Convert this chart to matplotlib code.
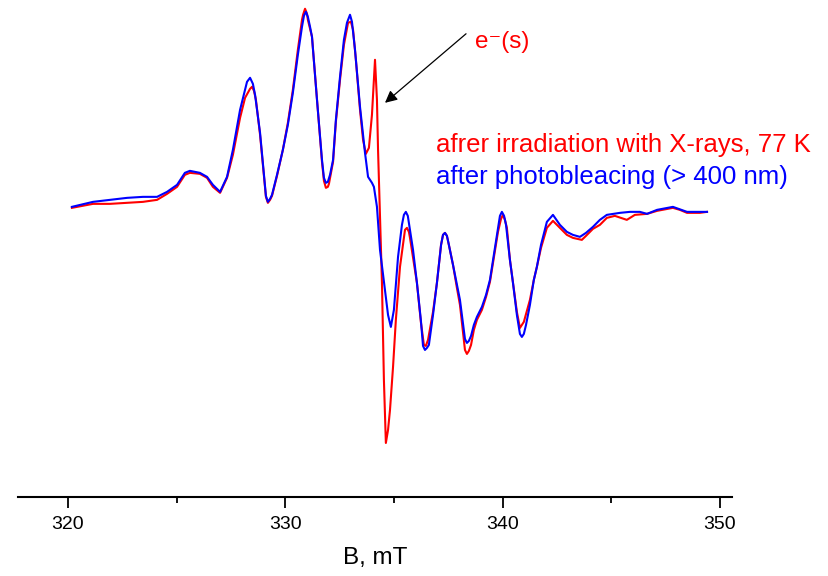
import matplotlib
matplotlib.use("Agg")
import matplotlib.pyplot as plt
from matplotlib.ticker import MultipleLocator

# Magnetic field (mT) and EPR intensity (a.u.)
b_blue = [320.18, 321.15, 321.93, 322.72, 323.45, 324.10, 324.56, 325.02, 325.38, 325.61,
          326.07, 326.40, 326.67, 327.00, 327.32, 327.59, 327.92, 328.15, 328.24, 328.38,
          328.51, 328.61, 328.84, 329.02, 329.11, 329.20, 329.30, 329.39, 329.62, 329.89,
          330.12, 330.35, 330.58, 330.77, 330.86, 330.95, 331.04, 331.14, 331.23, 331.46,
          331.69, 331.78, 331.87, 331.96, 332.06, 332.20, 332.33, 332.52, 332.70, 332.84,
          332.98, 333.07, 333.21, 333.44, 333.67, 333.81, 333.99, 334.08, 334.22, 334.36,
          334.59, 334.73, 334.86, 335.00, 335.19, 335.37, 335.46, 335.55, 335.64, 335.88,
          336.06, 336.24, 336.34, 336.43, 336.52, 336.61, 336.80, 336.98, 337.17, 337.26,
          337.35, 337.44, 337.53, 337.72, 337.90, 338.04, 338.22, 338.27, 338.36, 338.45,
          338.55, 338.68, 338.82, 339.05, 339.24, 339.42, 339.60, 339.79, 339.88, 339.97,
          340.07, 340.16, 340.34, 340.48, 340.66, 340.80, 340.89, 340.98, 341.08, 341.26,
          341.44, 341.58, 341.77, 342.04, 342.32, 342.64, 342.96, 343.24, 343.56, 343.84,
          344.16, 344.48, 344.80, 345.40, 345.86, 346.32, 346.65, 347.11, 347.84, 348.49,
          349.08, 349.41]
i_blue = [-2, 3, 5, 7, 8, 8, 13, 20, 32, 34,
          32, 28, 20, 13, 28, 55, 95, 115, 123, 127,
          121, 110, 72, 30, 9, 3, 6, 10, 30, 55,
          80, 112, 150, 178, 189, 193, 188, 178, 168, 105,
          45, 27, 22, 23, 30, 45, 85, 128, 165, 182,
          190, 183, 155, 98, 52, 28, 22, 18, -2, -45,
          -85, -110, -122, -105, -52, -20, -10, -7, -11, -45,
          -78, -115, -141, -145, -143, -140, -110, -78, -40, -30,
          -28, -31, -40, -60, -80, -95, -125, -134, -138, -136,
          -131, -120, -112, -102, -90, -75, -50, -23, -11, -7,
          -11, -20, -55, -78, -110, -129, -132, -129, -120, -100,
          -75, -62, -40, -17, -10, -20, -27, -30, -32, -28,
          -22, -15, -10, -8, -7, -7, -9, -5, -2, -7,
          -7, -7]

b_red = [320.18, 321.15, 321.93, 322.72, 323.45, 324.10, 324.56, 325.02, 325.38, 325.61,
         326.07, 326.40, 326.67, 327.00, 327.32, 327.59, 327.92, 328.15, 328.38, 328.47,
         328.56, 328.65, 328.84, 329.02, 329.11, 329.20, 329.30, 329.39, 329.62, 329.89,
         330.12, 330.35, 330.58, 330.77, 330.82, 330.91, 331.00, 331.04, 331.23, 331.46,
         331.69, 331.78, 331.87, 331.96, 332.01, 332.20, 332.33, 332.52, 332.70, 332.89,
         333.02, 333.12, 333.25, 333.44, 333.58, 333.71, 333.85, 333.99, 334.13, 334.22,
         334.27, 334.36, 334.45, 334.54, 334.63, 334.73, 334.82, 334.96, 335.09, 335.28,
         335.46, 335.51, 335.60, 335.69, 335.74, 335.88, 336.06, 336.24, 336.38, 336.47,
         336.57, 336.80, 336.98, 337.17, 337.26, 337.35, 337.44, 337.53, 337.72, 337.90,
         338.04, 338.22, 338.27, 338.36, 338.45, 338.55, 338.68, 338.82, 339.05, 339.24,
         339.42, 339.60, 339.79, 339.93, 340.02, 340.11, 340.20, 340.34, 340.48, 340.66,
         340.80, 340.98, 341.26, 341.44, 341.58, 341.77, 342.04, 342.32, 342.64, 342.96,
         343.24, 343.65, 343.84, 344.16, 344.48, 344.80, 345.17, 345.72, 346.09, 346.65,
         347.11, 347.84, 348.16, 348.49, 349.08, 349.41]
i_red = [-3, 1, 1, 2, 3, 5, 11, 18, 30, 32,
         31, 27, 18, 12, 27, 50, 87, 107, 116, 118,
         114, 105, 70, 28, 8, 2, 5, 9, 29, 55,
         82, 115, 155, 185, 190, 196, 191, 185, 168, 105,
         43, 24, 17, 18, 21, 43, 83, 125, 160, 182,
         183, 175, 145, 95, 65, 51, 57, 90, 145, 105,
         55, -10, -78, -175, -238, -225, -205, -162, -115, -62,
         -33, -25, -23, -27, -33, -53, -78, -117, -140, -141,
         -135, -107, -78, -40, -30, -28, -31, -40, -60, -83,
         -100, -135, -145, -149, -146, -140, -125, -115, -105, -92,
         -77, -53, -27, -14, -10, -15, -23, -55, -78, -107,
         -123, -117, -95, -75, -62, -43, -23, -16, -23, -30,
         -33, -35, -31, -24, -20, -13, -11, -15, -10, -9,
         -6, -3, -5, -8, -8, -7]

x_ticks = [320, 330, 340, 350]
label_red = "afrer irradiation with X-rays, 77 K"
label_blue = "after photobleacing (> 400 nm)"
label_species = "e\u207b(s)"

fam = ["Liberation Sans", "DejaVu Sans"]
fig = plt.figure(figsize=(8.29, 5.76), dpi=100)
ax = fig.add_axes([18/829, 1 - 497/576, (732 - 18)/829, 0.99 - (1 - 497/576)])

ax.plot(b_red, i_red, color="#ff0000", lw=1.5)
ax.plot(b_blue, i_blue, color="#0000ff", lw=1.5)

ax.set_xlim(317.70, 350.56)
ax.set_ylim(-292, 199)

for s in ["top", "right", "left"]:
    ax.spines[s].set_visible(False)
ax.spines["bottom"].set_linewidth(1.5)
ax.set_yticks([])
ax.set_xticks(x_ticks)
ax.xaxis.set_minor_locator(MultipleLocator(5))
ax.tick_params(axis="x", which="major", direction="out", length=8, width=1.3, pad=6)
ax.tick_params(axis="x", which="minor", direction="out", length=4.5, width=1.3)
for lab in ax.get_xticklabels():
    lab.set_fontfamily(fam)
    lab.set_fontsize(14)
ax.set_xlabel("B, mT", fontsize=17.5, family=fam, labelpad=10)

ax.annotate("", xy=(334.59, 102), xytext=(338.32, 171),
            arrowprops=dict(arrowstyle="-|>", color="black", lw=0.9,
                            mutation_scale=18, shrinkA=0, shrinkB=0))
ax.text(338.75, 163, label_species, color="#ff0000", fontsize=17.5, family=fam,
        ha="left", va="center")
ax.text(336.93, 60, label_red, color="#ff0000", fontsize=18.5, family=fam,
        ha="left", va="center")
ax.text(336.93, 28, label_blue, color="#0000ff", fontsize=18.5, family=fam,
        ha="left", va="center")

fig.savefig("out.png", dpi=100)
